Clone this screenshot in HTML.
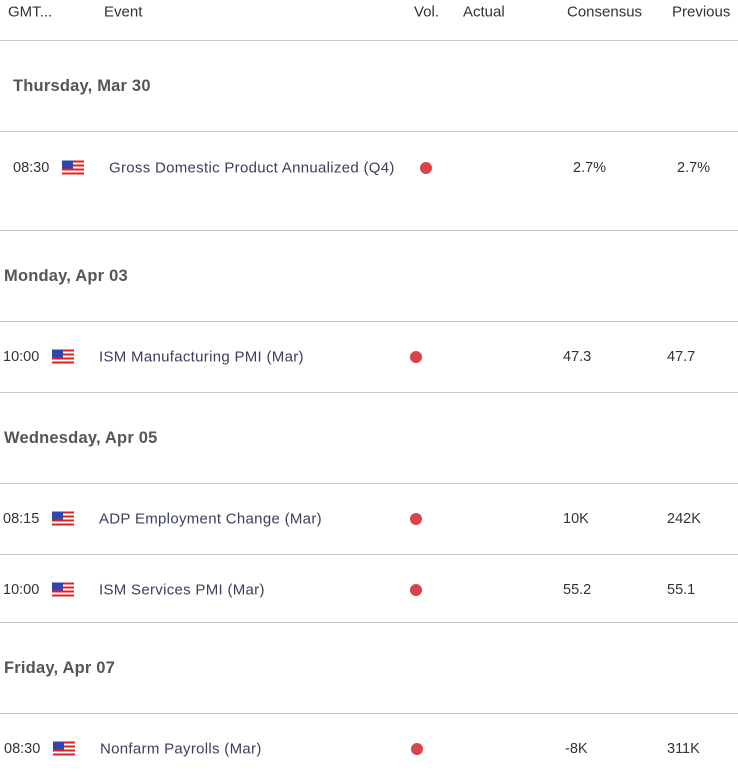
<!DOCTYPE html><html><head><style>
body{margin:0;width:738px;height:781px;background:#fff;position:relative;overflow:hidden;font-family:"Liberation Sans",sans-serif;}
.t{position:absolute;white-space:nowrap;line-height:1;transform:translateY(-50%);}
.h{font-size:15px;color:#333;}
.d{font-size:16.5px;color:#555;font-weight:bold;letter-spacing:0.2px;}
.r{font-size:14.5px;color:#333;}
.e{font-size:15px;color:#3a3f5c;letter-spacing:0.3px;}
.l{position:absolute;height:1px;background:#c8c8c8;right:0;}
.dot{position:absolute;width:12px;height:12px;border-radius:50%;background:#d9434b;transform:translateY(-50%);}
.f{position:absolute;width:22px;height:15px;transform:translateY(-50%);background:repeating-linear-gradient(#d22 0 2px,#fff 2px 4px);}
.f:before{content:"";position:absolute;left:0;top:0;width:11px;height:8px;background:#3344aa;}
</style></head><body>
<div class="t h" style="left:8px;top:12px">GMT...</div>
<div class="t h" style="left:104px;top:12px">Event</div>
<div class="t h" style="left:414px;top:12px">Vol.</div>
<div class="t h" style="left:463px;top:12px">Actual</div>
<div class="t h" style="left:567px;top:12px">Consensus</div>
<div class="t h" style="left:672px;top:12px">Previous</div>
<div class="l" style="left:0;top:40px"></div>
<div class="t d" style="left:13px;top:86px">Thursday, Mar 30</div>
<div class="l" style="left:0;top:131px"></div>
<div class="t r" style="left:13px;top:168px">08:30</div><div class="f" style="left:62px;top:168px"></div>
<div class="t e" style="left:109px;top:168px">Gross Domestic Product Annualized (Q4)</div>
<div class="dot" style="left:420px;top:168px"></div>
<div class="t r" style="left:573px;top:168px">2.7%</div><div class="t r" style="left:677px;top:168px">2.7%</div>
<div class="l" style="left:0;top:230px"></div>
<div class="t d" style="left:4px;top:276px">Monday, Apr 03</div>
<div class="l" style="left:0;top:321px"></div>
<div class="t r" style="left:3px;top:357px">10:00</div><div class="f" style="left:52px;top:357px"></div>
<div class="t e" style="left:99px;top:357px">ISM Manufacturing PMI (Mar)</div>
<div class="dot" style="left:410px;top:357px"></div>
<div class="t r" style="left:563px;top:357px">47.3</div><div class="t r" style="left:667px;top:357px">47.7</div>
<div class="l" style="left:0;top:392px"></div>
<div class="t d" style="left:4px;top:438px">Wednesday, Apr 05</div>
<div class="l" style="left:0;top:483px"></div>
<div class="t r" style="left:3px;top:519px">08:15</div><div class="f" style="left:52px;top:519px"></div>
<div class="t e" style="left:99px;top:519px">ADP Employment Change (Mar)</div>
<div class="dot" style="left:410px;top:519px"></div>
<div class="t r" style="left:563px;top:519px">10K</div><div class="t r" style="left:667px;top:519px">242K</div>
<div class="l" style="left:0;top:554px"></div>
<div class="t r" style="left:3px;top:590px">10:00</div><div class="f" style="left:52px;top:590px"></div>
<div class="t e" style="left:99px;top:590px">ISM Services PMI (Mar)</div>
<div class="dot" style="left:410px;top:590px"></div>
<div class="t r" style="left:563px;top:590px">55.2</div><div class="t r" style="left:667px;top:590px">55.1</div>
<div class="l" style="left:0;top:622px"></div>
<div class="t d" style="left:4px;top:668px">Friday, Apr 07</div>
<div class="l" style="left:0;top:713px"></div>
<div class="t r" style="left:4px;top:749px">08:30</div><div class="f" style="left:53px;top:749px"></div>
<div class="t e" style="left:100px;top:749px">Nonfarm Payrolls (Mar)</div>
<div class="dot" style="left:411px;top:749px"></div>
<div class="t r" style="left:565px;top:749px">-8K</div><div class="t r" style="left:667px;top:749px">311K</div>
</body></html>
